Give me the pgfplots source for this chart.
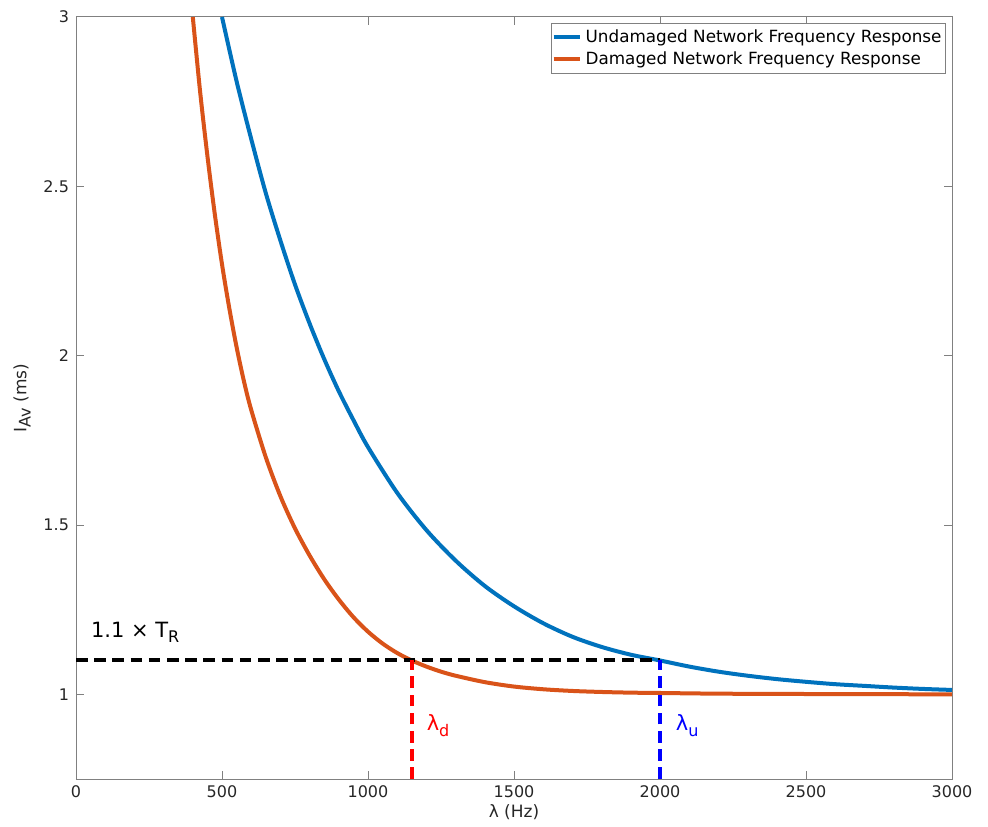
\documentclass[border=0pt]{standalone}
\usepackage{fontspec}
\setmainfont{DejaVu Sans}
\usepackage{pgfplots}
\pgfplotsset{compat=1.18}
\definecolor{mblue}{RGB}{0,114,189}
\definecolor{morange}{RGB}{217,83,25}
\newcommand{\sub}[1]{\raisebox{-0.45ex}{\fontsize{8}{9}\selectfont #1}}

\begin{document}
\begin{tikzpicture}
\begin{axis}[
  name=ax, at={(0,0)}, anchor=south west,
  scale only axis, width=438pt, height=381pt,
  xmin=0, xmax=3000, ymin=0.75, ymax=3,
  xtick={0,500,...,3000},
  ytick={1,1.5,2,2.5,3},
  scaled x ticks=false,
  xticklabel style={/pgf/number format/1000 sep={}},
  /pgf/number format/assume math mode=true,
  tick label style={font=\fontsize{8}{10}\selectfont, color=black!85},
  axis line style={draw=black!50, line width=0.5pt},
  tick style={draw=black!50, line width=0.5pt},
  major tick length=4pt,
  tick align=inside,
  xlabel={λ (Hz)},
  ylabel={I\sub{Av} (ms)},
  label style={font=\fontsize{8.5}{10}\selectfont, color=black!85},
  xlabel style={at={(axis description cs:0.5,-0.0433)}, anchor=center},
  ylabel style={at={(axis description cs:-0.0616,0.5)}, anchor=center},
  legend style={at={([xshift=-3pt,yshift=-3pt]axis description cs:1,1)}, anchor=north east,
    draw=black!50, line width=0.5pt, font=\fontsize{8.4}{9.8}\selectfont,
    inner xsep=0pt, inner ysep=1pt, row sep=-1pt},
  legend cell align=left,
  legend image code/.code={\draw[#1] (0pt,0pt) -- (13pt,0pt);},
  clip=true,
]
  % undamaged network
  \addplot[mblue, line width=2pt, smooth] coordinates {
    (500,3.00) (550,2.81) (600,2.64) (650,2.48) (700,2.34) (750,2.21)
    (800,2.095) (850,1.99) (900,1.895) (950,1.81) (1000,1.73) (1100,1.595)
    (1200,1.485) (1300,1.395) (1400,1.32) (1500,1.26) (1600,1.21) (1700,1.17)
    (1800,1.14) (1900,1.117) (2000,1.10) (2100,1.082) (2200,1.067) (2300,1.055)
    (2400,1.045) (2500,1.037) (2600,1.030) (2700,1.025) (2800,1.020)
    (2900,1.016) (3000,1.013)};
  \addlegendentry{Undamaged Network Frequency Response}

  % damaged network
  \addplot[morange, line width=2pt, smooth] coordinates {
    (400,3.00) (425,2.78) (450,2.59) (475,2.42) (500,2.27) (525,2.14)
    (550,2.025) (575,1.925) (600,1.84) (650,1.70) (700,1.585) (750,1.49)
    (800,1.41) (850,1.34) (900,1.28) (950,1.228) (1000,1.185) (1050,1.15)
    (1100,1.122) (1150,1.10) (1200,1.082) (1250,1.067) (1300,1.055)
    (1400,1.036) (1500,1.023) (1600,1.015) (1700,1.010) (1800,1.007)
    (1900,1.005) (2000,1.004) (2200,1.002) (2500,1.001) (3000,1.000)};
  \addlegendentry{Damaged Network Frequency Response}

  \addplot[black, line width=2pt, dash pattern=on 5.8pt off 3.3pt, forget plot]
    coordinates {(0,1.1) (2000,1.1)};
  \addplot[red, line width=2pt, dash pattern=on 5.8pt off 3.3pt, forget plot]
    coordinates {(1150,0.75) (1150,1.1)};
  \addplot[blue, line width=2pt, dash pattern=on 5.8pt off 3.3pt, forget plot]
    coordinates {(2000,0.75) (2000,1.1)};

  \node[anchor=base west, font=\fontsize{10.5}{12}\selectfont, inner sep=0pt]
    at (axis cs:50,1.168) {1.1 × T\sub{R}};
  \node[anchor=base west, font=\fontsize{10.5}{12}\selectfont, inner sep=0pt, text=red]
    at (axis cs:1200,0.892) {λ\sub{d}};
  \node[anchor=base west, font=\fontsize{10.5}{12}\selectfont, inner sep=0pt, text=blue]
    at (axis cs:2053,0.892) {λ\sub{u}};
\end{axis}
\pgfresetboundingbox
\path (-38pt,-23.5pt) rectangle (456pt,389.5pt);
\end{tikzpicture}
\end{document}
